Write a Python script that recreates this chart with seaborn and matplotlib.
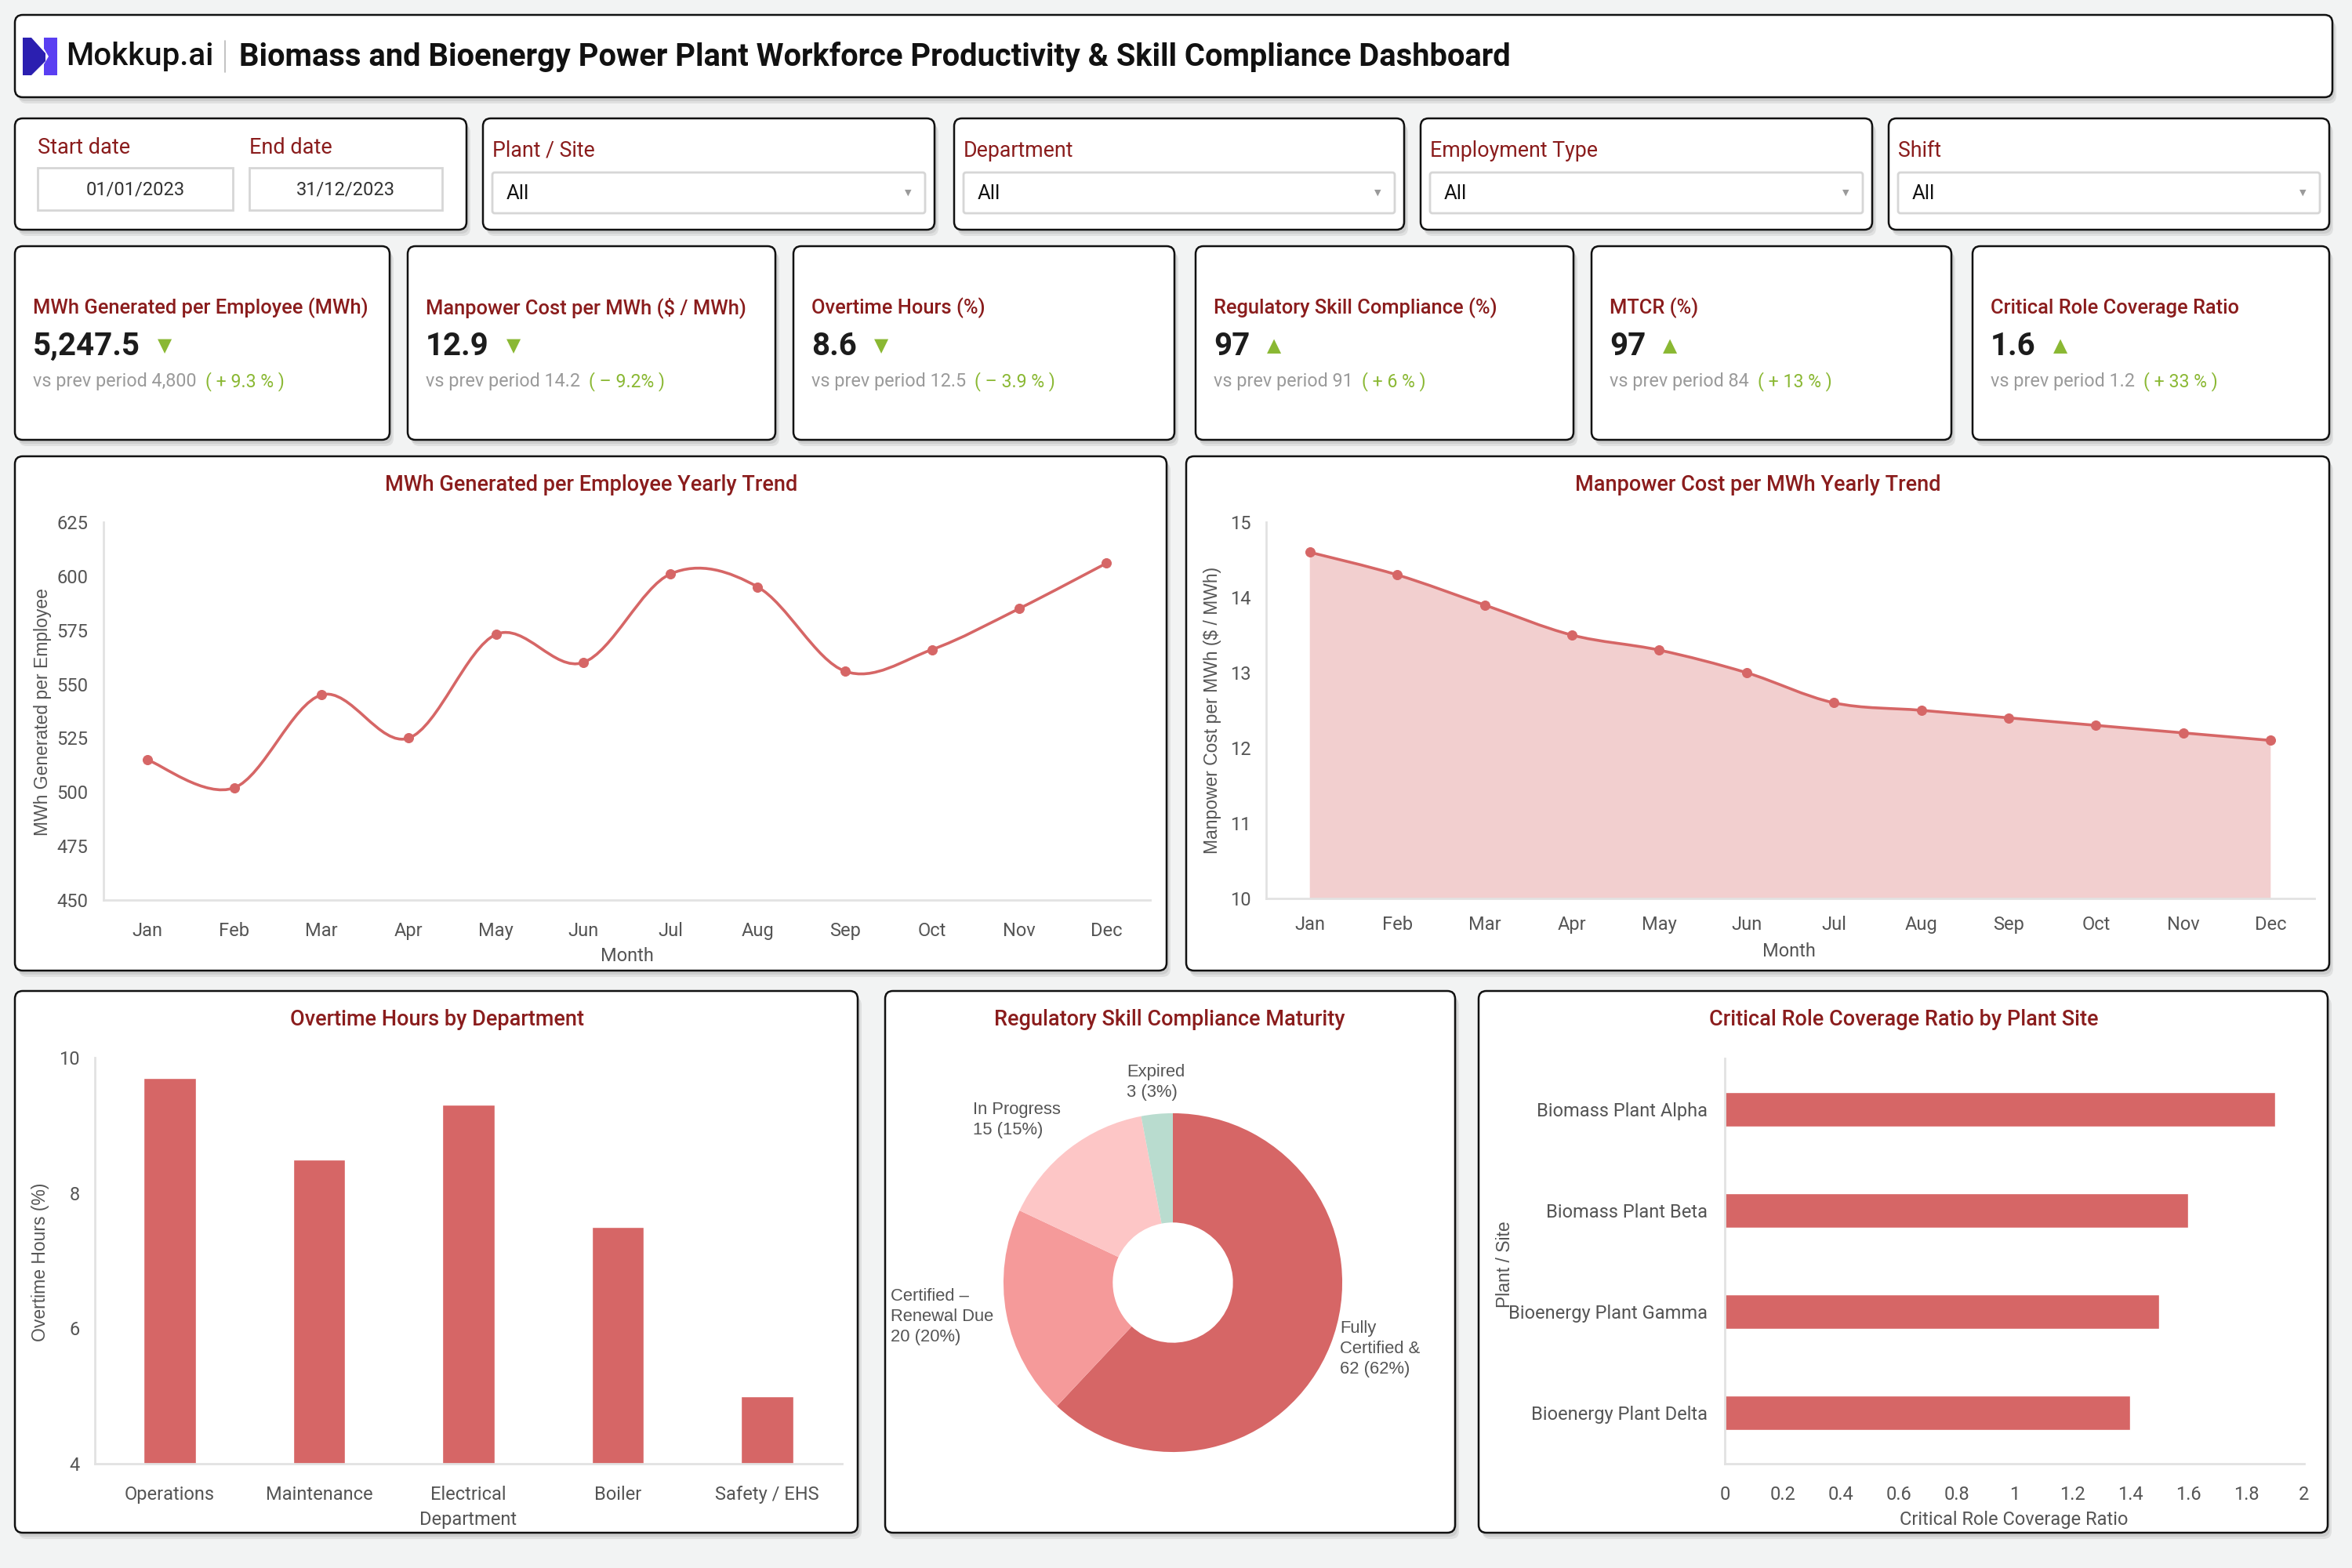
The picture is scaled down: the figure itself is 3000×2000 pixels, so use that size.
import matplotlib
matplotlib.use('Agg')
import matplotlib.pyplot as plt
import seaborn as sns
import numpy as np
import pandas as pd
from matplotlib.patches import FancyBboxPatch, Polygon, PathPatch
from matplotlib.path import Path

# ---- data ----
months = ['Jan', 'Feb', 'Mar', 'Apr', 'May', 'Jun', 'Jul', 'Aug', 'Sep', 'Oct', 'Nov', 'Dec']
mwh_per_employee = [515, 502, 545, 525, 573, 560, 601, 595, 556, 566, 585, 606]
cost_per_mwh = [14.6, 14.3, 13.9, 13.5, 13.3, 13.0, 12.6, 12.5, 12.4, 12.3, 12.2, 12.1]

departments = ['Operations', 'Maintenance', 'Electrical', 'Boiler', 'Safety / EHS']
overtime_pct = [9.7, 8.5, 9.3, 7.5, 5.0]

compliance_labels = ['Fully\nCertified &', 'Certified –\nRenewal Due', 'In Progress', 'Expired']
compliance_count = [62, 20, 15, 3]

plant_sites = ['Biomass Plant Alpha', 'Biomass Plant Beta', 'Bioenergy Plant Gamma', 'Bioenergy Plant Delta']
coverage_ratio = [1.9, 1.6, 1.5, 1.4]

kpi_titles = ['MWh Generated per Employee (MWh)', 'Manpower Cost per MWh ($ / MWh)', 'Overtime Hours (%)',
              'Regulatory Skill Compliance (%)', 'MTCR (%)', 'Critical Role Coverage Ratio']
kpi_values = ['5,247.5', '12.9', '8.6', '97', '97', '1.6']
kpi_arrows = ['▼', '▼', '▼', '▲', '▲', '▲']
kpi_prev = ['4,800', '14.2', '12.5', '91', '84', '1.2']
kpi_delta = ['( + 9.3 % )', '( – 9.2% )', '( – 3.9 % )', '( + 6 % )', '( + 13 % )', '( + 33 % )']

filter_names = ['Plant / Site', 'Department', 'Employment Type', 'Shift']
start_date, end_date = '01/01/2023', '31/12/2023'

# ---- colours ----
RED = '#d66666'
AREA = '#f2cfcf'
TITLE = '#8a1c1c'
GREEN = '#8ab833'
GREY = '#555555'
pie_colors = ['#d66666', '#f59a9a', '#fdc6c6', '#b9dccf']

sns.set_theme(style='white')
plt.rcParams['font.family'] = ['Roboto', 'DejaVu Sans']
ARIAL = ['Liberation Sans', 'DejaVu Sans']

W, H = 3000, 2000
fig = plt.figure(figsize=(30, 20), dpi=100)
fig.patch.set_facecolor('#f2f3f3')
bg = fig.add_axes([0, 0, 1, 1])
bg.set_xlim(0, W)
bg.set_ylim(H, 0)
bg.axis('off')
renderer = fig.canvas.get_renderer()


def card(x0, y0, x1, y1):
    for dx, dy, a in [(5, 8, 0.35), (3, 5, 0.5)]:
        bg.add_patch(FancyBboxPatch((x0 + dx, y0 + dy), x1 - x0, y1 - y0,
                                    boxstyle='round,pad=0,rounding_size=10',
                                    fc='#bdbdbd', ec='none', alpha=a, zorder=1))
    bg.add_patch(FancyBboxPatch((x0, y0), x1 - x0, y1 - y0,
                                boxstyle='round,pad=0,rounding_size=10',
                                fc='white', ec='#111111', lw=1.8, zorder=2))


def add_ax(x0, y0, x1, y1):
    return fig.add_axes([x0 / W, 1 - y1 / H, (x1 - x0) / W, (y1 - y0) / H])


def style(ax):
    ax.set_facecolor('none')
    for s in ['top', 'right']:
        ax.spines[s].set_visible(False)
    for s in ['left', 'bottom']:
        ax.spines[s].set_color('#e2e2e2')
        ax.spines[s].set_linewidth(2)
    ax.tick_params(length=0, labelsize=17, labelcolor=GREY)
    ax.set_xlabel('')
    ax.set_ylabel('')
    ax.grid(False)


def smooth_path(xs, ys):
    pts = np.column_stack([xs, ys]).astype(float)
    n = len(pts)
    verts, codes = [tuple(pts[0])], [Path.MOVETO]
    for i in range(n - 1):
        p0, p1, p2, p3 = pts[max(i - 1, 0)], pts[i], pts[i + 1], pts[min(i + 2, n - 1)]
        verts += [tuple(p1 + (p2 - p0) / 6), tuple(p2 - (p3 - p1) / 6), tuple(p2)]
        codes += [Path.CURVE4] * 3
    return verts, codes


def right_edge(t):
    return t.get_window_extent(renderer).x1


# ---- header ----
card(19, 19, 2975, 124)
bg.add_patch(Polygon([(29, 48), (40, 48), (58, 68), (58, 78), (40, 96), (29, 96)], closed=True,
                     fc='#2b1fb0', ec='none', zorder=3))
bg.add_patch(Polygon([(56, 48), (73, 48), (73, 96), (56, 96), (56, 82), (62, 72), (56, 62)], closed=True,
                     fc='#5a3ff2', ec='none', zorder=3))
bg.text(84, 72, 'Mokkup.ai', fontsize=29, fontweight='medium', color='#111111', va='center', zorder=3)
bg.plot([287, 287], [52, 92], color='#b8b8b8', lw=1.2, zorder=3)
bg.text(305, 72, 'Biomass and Bioenergy Power Plant Workforce Productivity & Skill Compliance Dashboard',
        fontsize=28.7, fontweight='bold', color='#111111', va='center', zorder=3)

# ---- filters ----
card(19, 151, 595, 293)
bg.text(48, 189, 'Start date', fontsize=19.5, color=TITLE, va='center', zorder=3)
bg.text(318, 189, 'End date', fontsize=19.5, color=TITLE, va='center', zorder=3)
for (bx0, bx1, txt) in [(48, 297, start_date), (318, 564, end_date)]:
    bg.add_patch(FancyBboxPatch((bx0, 214), bx1 - bx0, 54, boxstyle='square,pad=0',
                                fc='white', ec='#d6d6d6', lw=2, zorder=3))
    bg.text((bx0 + bx1) / 2, 242, txt, fontsize=17, color='#333333', ha='center', va='center', zorder=4)

filter_boxes = [(616, 1192), (1217, 1791), (1812, 2388), (2409, 2971)]
for name, (fx0, fx1) in zip(filter_names, filter_boxes):
    card(fx0, 151, fx1, 293)
    bg.text(fx0 + 12, 192, name, fontsize=19.3, color=TITLE, va='center', zorder=3)
    bg.add_patch(FancyBboxPatch((fx0 + 12, 220), fx1 - fx0 - 24, 52, boxstyle='round,pad=0,rounding_size=3',
                                fc='white', ec='#d6d6d6', lw=2, zorder=3))
    bg.text(fx0 + 30, 247, 'All', fontsize=18.5, color='#111111', va='center', zorder=4)
    bg.text(fx1 - 34, 246, '▼', fontsize=8, color='#9a9a9a', ha='center', va='center',
            family=['DejaVu Sans'], zorder=4)

# ---- KPI cards ----
kpi_boxes = [(19, 497), (520, 989), (1012, 1498), (1525, 2007), (2030, 2489), (2516, 2971)]
for i, (kx0, kx1) in enumerate(kpi_boxes):
    card(kx0, 314, kx1, 561)
    tx = kx0 + 23
    bg.text(tx, 393, kpi_titles[i], fontsize=18.4, fontweight='medium', color=TITLE, va='center', zorder=3)
    v = bg.text(tx, 442, kpi_values[i], fontsize=29, fontweight='bold', color='#1c1c1c', va='center', zorder=3)
    bg.text(right_edge(v) + 22, 441, kpi_arrows[i], fontsize=17, color=GREEN, va='center',
            family=['DejaVu Sans'], zorder=3)
    p = bg.text(tx, 487, 'vs prev period ' + kpi_prev[i], fontsize=16.8, color='#9a9a9a', va='center', zorder=3)
    bg.text(right_edge(p) + 11, 487, kpi_delta[i], fontsize=16.6, color=GREEN, va='center', zorder=3)

# ---- chart cards ----
card(19, 582, 1488, 1238)
card(1513, 582, 2971, 1238)
card(19, 1264, 1094, 1955)
card(1129, 1264, 1856, 1955)
card(1886, 1264, 2969, 1955)

chart_titles = [('MWh Generated per Employee Yearly Trend', 754, 618),
                ('Manpower Cost per MWh Yearly Trend', 2242, 618),
                ('Overtime Hours by Department', 557, 1301),
                ('Regulatory Skill Compliance Maturity', 1492, 1301),
                ('Critical Role Coverage Ratio by Plant Site', 2428, 1301)]
for t, x, y in chart_titles:
    bg.text(x, y, t, fontsize=19.5, fontweight='medium', color=TITLE, ha='center', va='center', zorder=3)

# ---- MWh per employee trend (smooth line) ----
df_mwh = pd.DataFrame({'month': months, 'value': mwh_per_employee})
ax1 = add_ax(132, 666, 1467, 1148)
style(ax1)
verts, codes = smooth_path(np.arange(len(months)), df_mwh['value'])
ax1.add_patch(PathPatch(Path(verts, codes), fill=False, ec=RED, lw=2.6, zorder=2))
sns.scatterplot(data=df_mwh, x='month', y='value', ax=ax1, color=RED, s=75, edgecolor=RED, zorder=3)
ax1.set_xlim(-0.5, len(months) - 0.5)
ax1.set_ylim(450, 625)
ax1.set_yticks(range(450, 626, 25))
style(ax1)
ax1.tick_params(axis='x', pad=20)
ax1.tick_params(axis='y', pad=14)
bg.text(800, 1219, 'Month', fontsize=17, color=GREY, ha='center', va='center', zorder=3)
bg.text(54, 908, 'MWh Generated per Employee', fontsize=16.5, color=GREY, ha='center', va='center',
        rotation=90, family=ARIAL, zorder=3)

# ---- manpower cost trend (area) ----
df_cost = pd.DataFrame({'month': months, 'value': cost_per_mwh})
ax2 = add_ax(1615, 666, 2952, 1146)
style(ax2)
xs = np.arange(len(months))
verts, codes = smooth_path(xs, df_cost['value'])
fill_verts = verts + [(xs[-1], 10), (xs[0], 10), verts[0]]
fill_codes = codes + [Path.LINETO, Path.LINETO, Path.CLOSEPOLY]
ax2.add_patch(PathPatch(Path(fill_verts, fill_codes), fc=AREA, ec='none', zorder=1))
ax2.add_patch(PathPatch(Path(verts, codes), fill=False, ec=RED, lw=2.6, zorder=2))
sns.scatterplot(data=df_cost, x='month', y='value', ax=ax2, color=RED, s=75, edgecolor=RED, zorder=3)
ax2.set_xlim(-0.5, len(months) - 0.5)
ax2.set_ylim(10, 15)
ax2.set_yticks(range(10, 16))
style(ax2)
ax2.tick_params(axis='x', pad=16)
ax2.tick_params(axis='y', pad=14)
bg.text(2282, 1213, 'Month', fontsize=17, color=GREY, ha='center', va='center', zorder=3)
bg.text(1546, 906, 'Manpower Cost per MWh ($ / MWh)', fontsize=16.5, color=GREY, ha='center', va='center',
        rotation=90, family=ARIAL, zorder=3)

# ---- overtime by department ----
df_ot = pd.DataFrame({'department': departments, 'overtime': overtime_pct})
ax3 = add_ax(121, 1349, 1074, 1867)
sns.barplot(data=df_ot, x='department', y='overtime', ax=ax3, color=RED, width=0.35, saturation=1)
ax3.set_ylim(4, 10)
ax3.set_yticks([4, 6, 8, 10])
style(ax3)
ax3.tick_params(axis='x', pad=20)
ax3.tick_params(axis='y', pad=14)
bg.text(597, 1938, 'Department', fontsize=17, color=GREY, ha='center', va='center', zorder=3)
bg.text(52, 1610, 'Overtime Hours (%)', fontsize=16.5, color=GREY, ha='center', va='center',
        rotation=90, family=ARIAL, zorder=3)

# ---- compliance donut ----
ax4 = add_ax(1146, 1286, 1846, 1986)
ax4.pie(compliance_count, colors=pie_colors, startangle=90, counterclock=False, radius=1,
        wedgeprops=dict(width=0.645, edgecolor='none'))
ax4.set_xlim(-1.62, 1.62)
ax4.set_ylim(-1.62, 1.62)
ax4.set_aspect('equal')
ax4.axis('off')
total = sum(compliance_count)
start = 90.0
for lab, cnt in zip(compliance_labels, compliance_count):
    sweep = 360.0 * cnt / total
    mid = np.deg2rad(start - sweep / 2)
    start -= sweep
    c, s = np.cos(mid), np.sin(mid)
    ha = 'left' if c > 0.3 else ('right' if c < -0.3 else 'center')
    va = 'bottom' if s > 0.6 else 'center'
    r = 1.06 if c > 0.3 else 1.08
    ax4.text(r * c, r * s, f'{lab}\n{cnt} ({cnt / total * 100:.0f}%)', ha=ha, va=va, multialignment='left',
             fontsize=15.8, color=GREY, family=ARIAL, linespacing=1.3)

# ---- critical role coverage ----
df_cov = pd.DataFrame({'site': plant_sites, 'ratio': coverage_ratio})
ax5 = add_ax(2200, 1350, 2939, 1867)
sns.barplot(data=df_cov, x='ratio', y='site', orient='h', ax=ax5, color=RED, width=0.34, saturation=1)
ax5.set_xlim(0, 2)
ticks = np.round(np.arange(0, 2.01, 0.2), 1)
ax5.set_xticks(ticks)
ax5.set_xticklabels([f'{t:g}' for t in ticks])
style(ax5)
ax5.tick_params(axis='x', pad=20)
ax5.tick_params(axis='y', pad=16)
bg.text(2569, 1938, 'Critical Role Coverage Ratio', fontsize=17, color=GREY, ha='center', va='center', zorder=3)
bg.text(1919, 1613, 'Plant / Site', fontsize=16.5, color=GREY, ha='center', va='center',
        rotation=90, family=ARIAL, zorder=5)

plt.savefig('out.png', dpi=100, facecolor=fig.get_facecolor())
plt.close()
